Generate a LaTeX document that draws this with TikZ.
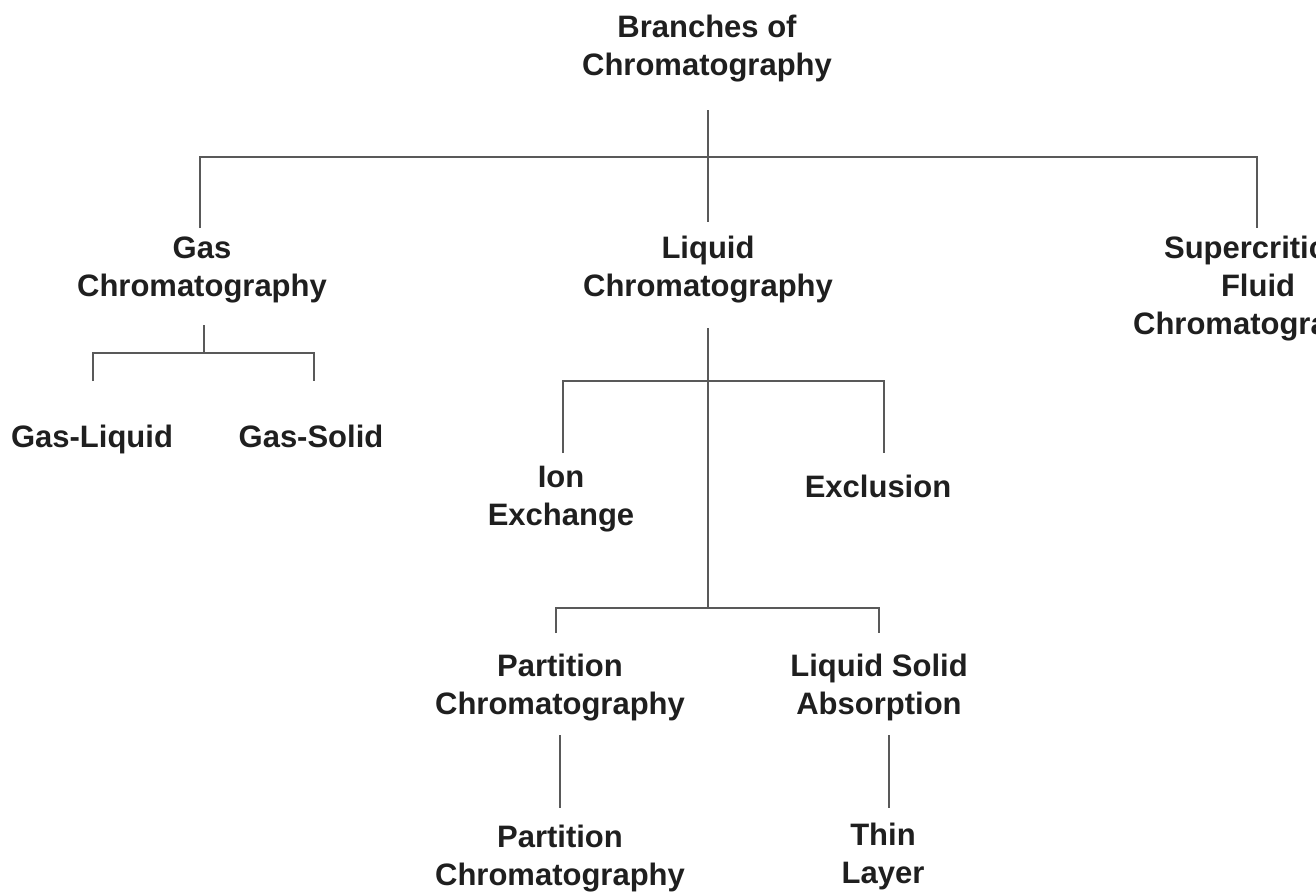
\documentclass[tikz,border=0pt]{standalone}
\usepackage{fontspec}
\setmainfont{Liberation Sans}
\begin{document}
\begin{tikzpicture}[x=1pt,y=-1pt,
  lbl/.style={font=\bfseries\fontsize{31}{38}\selectfont, align=center, text=black!88, inner sep=0pt},
  conn/.style={draw=black!65, line width=2pt}]
\useasboundingbox (0,0) rectangle (1316,894);
\clip (0,0) rectangle (1316,894);
\node[lbl] (root) at (707,49) {Branches of\\Chromatography};
\node[lbl] (gas) at (202,270) {Gas\\Chromatography};
\node[lbl] (liq) at (708,270) {Liquid\\Chromatography};
\node[lbl] (sfc) at (1258,289) {Supercritical\\Fluid\\Chromatography};
\node[lbl] (gl) at (92,439) {Gas-Liquid};
\node[lbl] (gs) at (311,436) {Gas-Solid};
\node[lbl] (ion) at (561,499) {Ion\\Exchange};
\node[lbl] (exc) at (878,486) {Exclusion};
\node[lbl] (pc1) at (560,688) {Partition\\Chromatography};
\node[lbl] (lsa) at (879,687) {Liquid Solid\\Absorption};
\node[lbl] (pc2) at (560,859) {Partition\\Chromatography};
\node[lbl] (tl) at (883,856) {Thin\\Layer};
% junction coordinates
\coordinate (r0) at (708,110);
\coordinate (rj) at (708,157);
\coordinate (rl) at (200,157);
\coordinate (rr) at (1257,157);
\coordinate (gasE) at (200,228);
\coordinate (sfcE) at (1257,228);
\coordinate (liqE) at (708,222);
\coordinate (g0) at (204,325);
\coordinate (gj) at (204,353);
\coordinate (gjl) at (93,353);
\coordinate (gjr) at (314,353);
\coordinate (glE) at (93,381);
\coordinate (gsE) at (314,381);
\coordinate (l0) at (708,328);
\coordinate (lj1) at (708,381);
\coordinate (lj1l) at (563,381);
\coordinate (lj1r) at (884,381);
\coordinate (ionE) at (563,453);
\coordinate (excE) at (884,453);
\coordinate (lj2) at (708,608);
\coordinate (lj2l) at (556,608);
\coordinate (lj2r) at (879,608);
\coordinate (pc1E) at (556,633);
\coordinate (lsaE) at (879,633);
\coordinate (p0) at (560,735);
\coordinate (pE) at (560,808);
\coordinate (t0) at (889,735);
\coordinate (tE) at (889,808);
% connectors
\draw[conn] (r0) -- (liqE);
\draw[conn] (gasE) -- (rl) -- (rr) -- (sfcE);
\draw[conn] (g0) -- (gj);
\draw[conn] (glE) -- (gjl) -- (gjr) -- (gsE);
\draw[conn] (l0) -- (lj2);
\draw[conn] (ionE) -- (lj1l) -- (lj1r) -- (excE);
\draw[conn] (pc1E) -- (lj2l) -- (lj2r) -- (lsaE);
\draw[conn] (p0) -- (pE);
\draw[conn] (t0) -- (tE);
\end{tikzpicture}
\end{document}
